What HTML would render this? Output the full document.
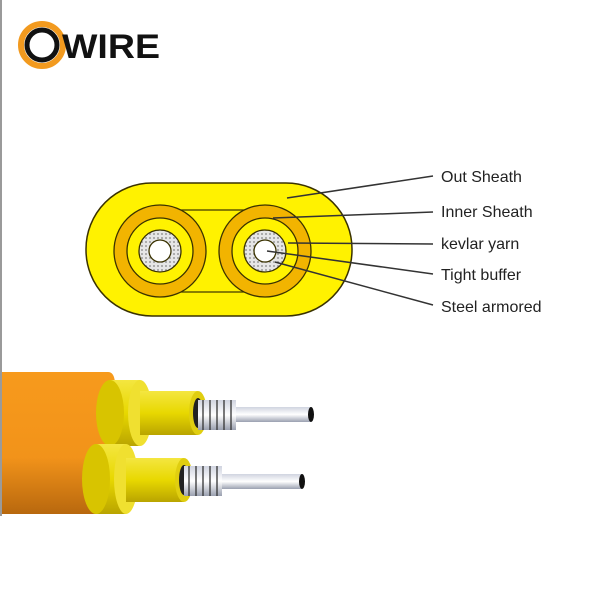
<!DOCTYPE html>
<html><head><meta charset="utf-8"><style>
html,body{margin:0;padding:0;background:#fff;width:600px;height:600px;overflow:hidden}
</style></head><body>
<svg width="600" height="600" viewBox="0 0 600 600" xmlns="http://www.w3.org/2000/svg" font-family="Liberation Sans, Arial, sans-serif">
<defs>
<linearGradient id="og" x1="0" y1="0" x2="0" y2="1">
<stop offset="0" stop-color="#f79a1c"/><stop offset="0.6" stop-color="#f2931a"/><stop offset="1" stop-color="#b8680e"/></linearGradient>
<linearGradient id="yg" x1="0" y1="0" x2="0" y2="1">
<stop offset="0" stop-color="#f4e640"/><stop offset="0.5" stop-color="#e8d800"/><stop offset="1" stop-color="#b9a400"/></linearGradient>
<linearGradient id="wg" x1="0" y1="0" x2="0" y2="1">
<stop offset="0" stop-color="#d0d4e0"/><stop offset="0.5" stop-color="#fff"/><stop offset="1" stop-color="#9aa0b0"/></linearGradient>
<pattern id="dots" width="4" height="4" patternUnits="userSpaceOnUse"><rect width="4" height="4" fill="#e6e6e6"/><circle cx="2" cy="2" r="1" fill="#9a9a9a"/></pattern>
</defs>
<line x1="1" y1="0" x2="1" y2="516" stroke="#9a9a9a" stroke-width="2"/>
<!-- logo -->
<circle cx="42" cy="45" r="21" fill="none" stroke="#f29a1f" stroke-width="6"/>
<circle cx="42" cy="45" r="15" fill="none" stroke="#111" stroke-width="5"/>
<text x="62" y="58" font-size="34" font-weight="bold" fill="#111" textLength="98" lengthAdjust="spacingAndGlyphs">WIRE</text>
<!-- cross-section -->
<rect x="86" y="183" width="266" height="133" rx="66" fill="#fff200" stroke="#3a3200" stroke-width="1.5"/>
<rect x="160" y="210" width="105" height="82" fill="none" stroke="#3a3200" stroke-width="1.2"/>
<g stroke="#3a3200" stroke-width="1.3">
<circle cx="160" cy="251" r="46" fill="#f2b400"/>
<circle cx="160" cy="251" r="33" fill="#fff200"/>
<circle cx="160" cy="251" r="21" fill="url(#dots)"/>
<circle cx="160" cy="251" r="11" fill="#fff"/>
<circle cx="265" cy="251" r="46" fill="#f2b400"/>
<circle cx="265" cy="251" r="33" fill="#fff200"/>
<circle cx="265" cy="251" r="21" fill="url(#dots)"/>
<circle cx="265" cy="251" r="11" fill="#fff"/>
</g>
<g stroke="#333" stroke-width="1.5">
<line x1="287" y1="198" x2="433" y2="176"/>
<line x1="273" y1="218" x2="433" y2="212"/>
<line x1="288" y1="243" x2="433" y2="244"/>
<line x1="267" y1="251" x2="433" y2="274"/>
<line x1="275" y1="262" x2="433" y2="305"/>
</g>
<g font-size="16" fill="#222">
<text x="441" y="182">Out Sheath</text>
<text x="441" y="217">Inner Sheath</text>
<text x="441" y="249">kevlar yarn</text>
<text x="441" y="280">Tight buffer</text>
<text x="441" y="312">Steel armored</text>
</g>
<!-- cable -->
<path d="M2 372 L108 372 Q118 372 114 400 L98 514 L2 514 Z" fill="url(#og)"/>
<!-- upper -->
<rect x="110" y="380" width="30" height="66" fill="url(#yg)"/>
<ellipse cx="110" cy="413" rx="14" ry="33" fill="#d8c400"/>
<ellipse cx="140" cy="413" rx="12" ry="33" fill="#f0e030"/>
<rect x="140" y="391" width="58" height="44" fill="url(#yg)"/>
<ellipse cx="198" cy="413" rx="9" ry="22" fill="#e0ce10"/>
<ellipse cx="198" cy="413" rx="5" ry="15" fill="#222"/>
<rect x="198" y="400" width="38" height="30" fill="url(#wg)"/>
<g stroke="#333" stroke-width="1.3"><line x1="203" y1="400" x2="203" y2="430"/><line x1="210" y1="400" x2="210" y2="430"/><line x1="217" y1="400" x2="217" y2="430"/><line x1="224" y1="400" x2="224" y2="430"/><line x1="231" y1="400" x2="231" y2="430"/></g>
<rect x="236" y="407" width="75" height="15" fill="url(#wg)"/>
<ellipse cx="311" cy="414.5" rx="3" ry="7.5" fill="#111"/>
<!-- lower -->
<rect x="96" y="444" width="30" height="70" fill="url(#yg)"/>
<ellipse cx="96" cy="479" rx="14" ry="35" fill="#d8c400"/>
<ellipse cx="126" cy="479" rx="12" ry="35" fill="#f0e030"/>
<rect x="126" y="458" width="58" height="44" fill="url(#yg)"/>
<ellipse cx="184" cy="480" rx="9" ry="22" fill="#e0ce10"/>
<ellipse cx="184" cy="480" rx="5" ry="15" fill="#222"/>
<rect x="184" y="466" width="38" height="30" fill="url(#wg)"/>
<g stroke="#333" stroke-width="1.3"><line x1="189" y1="466" x2="189" y2="496"/><line x1="196" y1="466" x2="196" y2="496"/><line x1="203" y1="466" x2="203" y2="496"/><line x1="210" y1="466" x2="210" y2="496"/><line x1="217" y1="466" x2="217" y2="496"/></g>
<rect x="222" y="474" width="80" height="15" fill="url(#wg)"/>
<ellipse cx="302" cy="481.5" rx="3" ry="7.5" fill="#111"/>
</svg>
</body></html>
